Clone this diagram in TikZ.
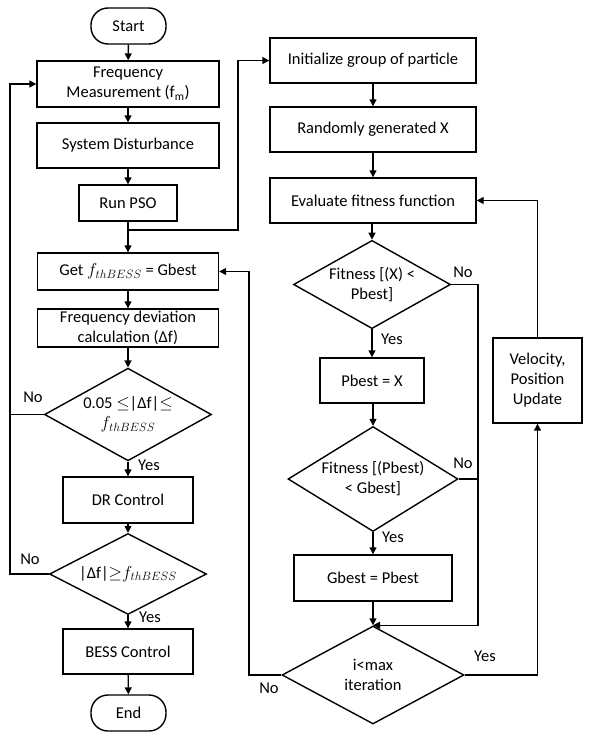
\documentclass[tikz,border=0pt]{standalone}
\usepackage{fontspec}
\setmainfont{Carlito}
\usetikzlibrary{arrows.meta, shapes.geometric, positioning}

\begin{document}
\begin{tikzpicture}[x=1pt, y=-1pt, line width=1.4pt,
    every node/.style={font=\fontsize{16.5}{20}\selectfont},
    process/.style={draw, rectangle, align=center, inner sep=0pt},
    terminal/.style={draw, rectangle, rounded corners=17pt, inner sep=0pt, minimum width=75, minimum height=36},
    decision/.style={draw, diamond, align=center, inner sep=-8pt},
    arr/.style={-{Triangle[length=7pt,width=7pt]}},
    lbl/.style={inner sep=0pt}]
    \useasboundingbox (0,0) rectangle (593,747);

    \node[terminal] (start) at (128.5,26) {Start};
    \node[process, minimum width=182, minimum height=46] (meas) at (128,84) {Frequency\\Measurement (f\textsubscript{m})};
    \node[process, minimum width=182, minimum height=45] (dist) at (128,145.5) {System Disturbance};
    \node[process, minimum width=98, minimum height=36] (pso) at (128,203) {Run PSO};
    \node[process, minimum width=181, minimum height=37] (getf) at (128,271.5) {Get $f_{thBESS}$ = Gbest};
    \node[process, minimum width=181, minimum height=38] (dev) at (128,328) {Frequency deviation\\calculation (Δf)};
    \node[decision, minimum width=167, minimum height=77] (chk1) at (128,414.5) {0.05 $\leq$|Δf|$\leq$\\$f_{thBESS}$};
    \node[process, minimum width=130, minimum height=46] (dr) at (128,500) {DR Control};
    \node[decision, minimum width=157, minimum height=64] (chk2) at (128,574) {|Δf|$\geq$$f_{thBESS}$};
    \node[process, minimum width=130, minimum height=45] (bess) at (128,651.5) {BESS Control};
    \node[terminal] (end) at (128.5,713) {End};

    \node[process, minimum width=206, minimum height=45] (init) at (373,60.5) {Initialize group of particle};
    \node[process, minimum width=206, minimum height=45] (rand) at (373,129.5) {Randomly generated X};
    \node[process, minimum width=206, minimum height=45] (eval) at (373,200.5) {Evaluate fitness function};
    \node[decision, minimum width=157, minimum height=77] (fit1) at (372,284.5) {Fitness [(X) <\\Pbest]};
    \node[process, minimum width=104, minimum height=45] (pb) at (372,380.5) {Pbest = X};
    \node[decision, minimum width=170, minimum height=88] (fit2) at (373,479) {Fitness [(Pbest)\\< Gbest]};
    \node[process, minimum width=158, minimum height=46] (gb) at (373,578) {Gbest = Pbest};
    \node[decision, minimum width=182, minimum height=98] (iter) at (373,675) {i<max\\iteration};
    \node[process, minimum width=89, minimum height=85] (vel) at (537.5,380.5) {Velocity,\\Position\\Update};

    \coordinate (lbus) at (10,0);
    \coordinate (mbus) at (249,0);
    \coordinate (rbus) at (478,0);
    \coordinate (tap) at (128,230);
    \coordinate (bend) at (238,230);

    \draw[arr] (start) -- (meas);
    \draw[arr] (meas) -- (dist);
    \draw[arr] (dist) -- (pso);
    \draw[arr] (pso) -- (getf);
    \draw[arr] (getf) -- (dev);
    \draw[arr] (dev) -- (chk1);
    \draw[arr] (chk1) -- (dr);
    \draw[arr] (dr) -- (chk2);
    \draw[arr] (chk2) -- (bess);
    \draw[arr] (bess) -- (end);
    \draw (chk1.west) -- (chk1.west -| lbus);
    \draw[arr] (chk2.west) -- (chk2.west -| lbus) |- (meas.west);
    \draw[arr] (tap) -- (bend) |- (init.west);

    \draw[arr] (init) -- (rand);
    \draw[arr] (rand) -- (eval);
    \draw[arr] (eval.south -| fit1.north) -- (fit1.north);
    \draw[arr] (fit1.south -| pb.north) -- (pb.north);
    \draw[arr] (pb.south) -- (pb.south -| fit2.north) -- (fit2.north);
    \draw[arr] (fit2) -- (gb);
    \draw[arr] (gb) -- (iter);
    \draw[arr] (fit1.east) -| (rbus |- iter.north) -- (iter.north);
    \draw (fit2.east) -- (fit2.east -| rbus);
    \draw[arr] (iter.east) -| (vel.south);
    \draw[arr] (vel.north) |- (eval.east);
    \draw[arr] (iter.west) -- (iter.west -| mbus) |- (getf.east);

    \node[lbl] (no1) at (33,397) {No};
    \node[lbl] (yes1) at (149,465) {Yes};
    \node[lbl] (no2) at (30,559) {No};
    \node[lbl] (yes2) at (150,617) {Yes};
    \node[lbl] (no3) at (463,272) {No};
    \node[lbl] (yes3) at (392,339) {Yes};
    \node[lbl] (no4) at (463,463) {No};
    \node[lbl] (yes4) at (393,537) {Yes};
    \node[lbl] (yes5) at (485,656) {Yes};
    \node[lbl] (no5) at (269,688) {No};
\end{tikzpicture}
\end{document}
